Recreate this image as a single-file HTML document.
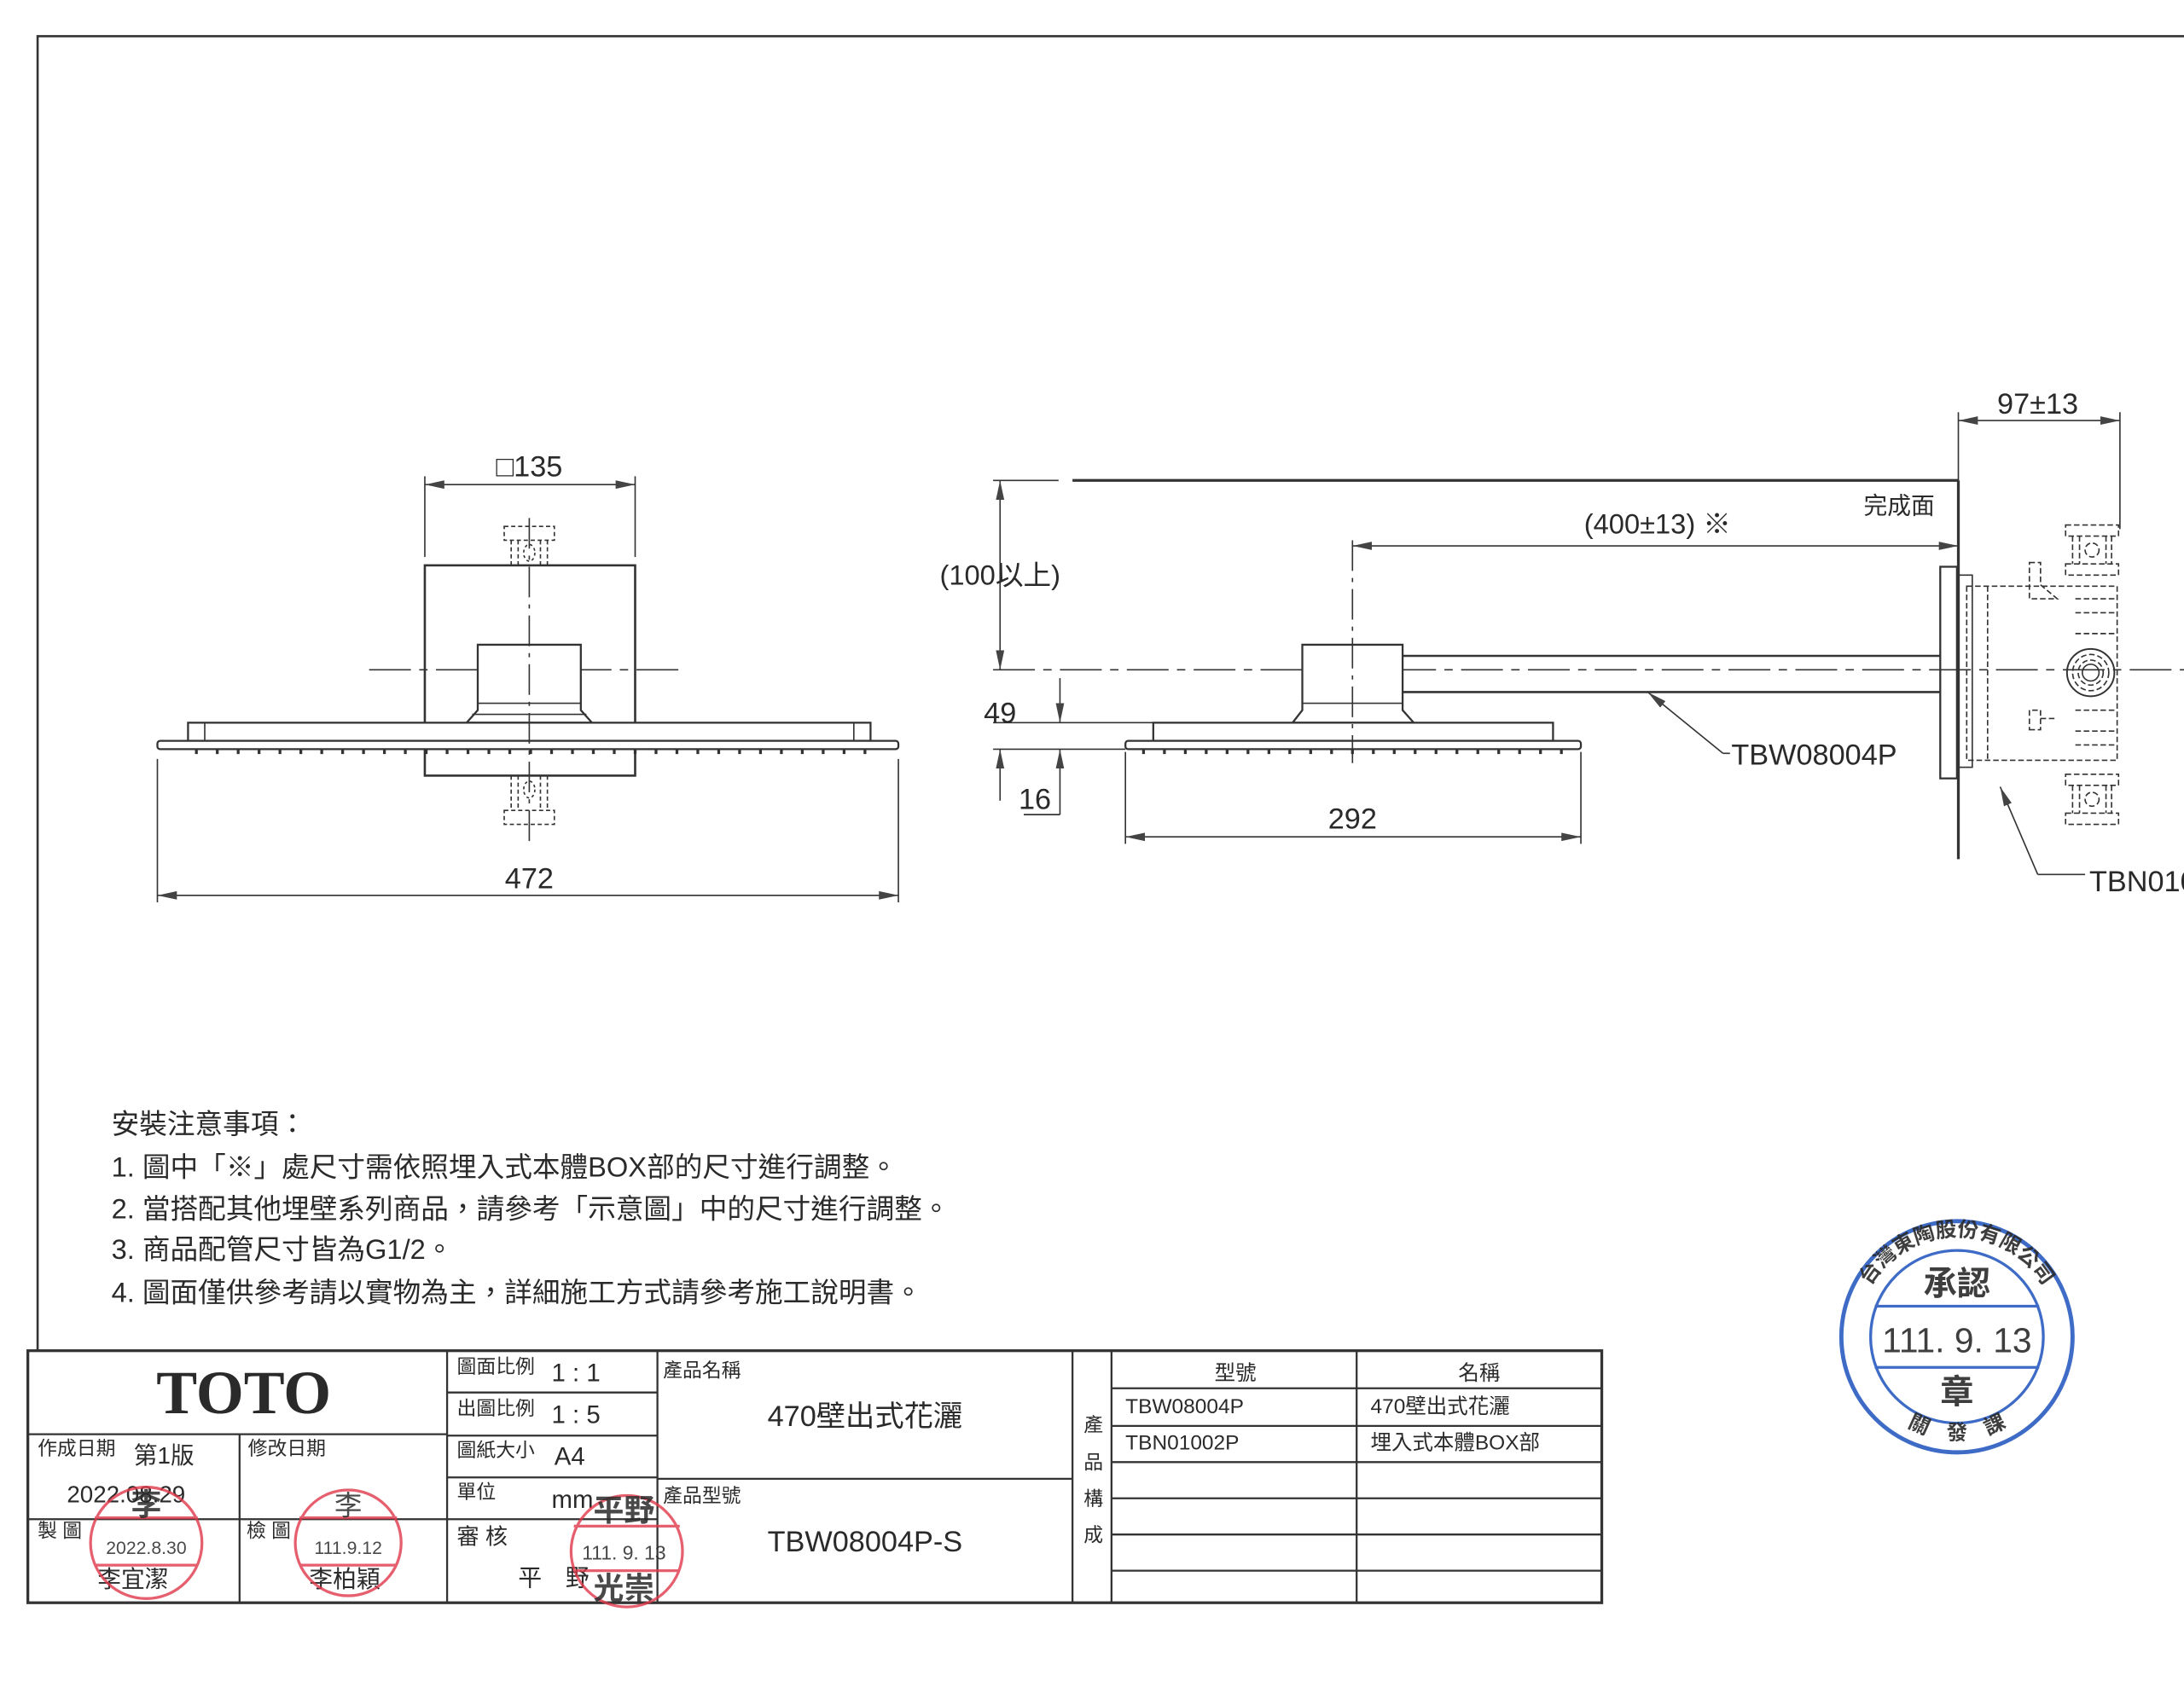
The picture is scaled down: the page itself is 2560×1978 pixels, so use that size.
<!DOCTYPE html>
<html><head><meta charset="utf-8">
<style>
html,body{margin:0;padding:0;background:#fff;}
svg{display:block;}
text{font-family:"Liberation Sans Narrow","Liberation Sans","Noto Sans CJK TC",sans-serif;fill:#2a2a2a;}
.cjk{font-family:"Liberation Sans","Noto Sans CJK TC",sans-serif;}
</style></head><body>
<svg width="2560" height="1978" viewBox="0 0 1568 1211.5" xmlns="http://www.w3.org/2000/svg">
<defs>
<marker id="a" markerWidth="14" markerHeight="8" refX="14" refY="4" orient="auto-start-reverse" markerUnits="userSpaceOnUse">
<path d="M0,1 L14,4 L0,7 Z" fill="#444"/></marker>
<path id="arcTop" d="M1333,960 A72,72 0 0 1 1477,960"/>
<path id="arcBot" d="M1340,990 A70,70 0 0 0 1470,990"/>
</defs>
<rect width="1568" height="1211.5" fill="#fff"/>
<path d="M27,970 V26 H1568" fill="none" stroke="#333" stroke-width="1.6"/>

<g stroke="#333" fill="none" stroke-width="1">
<!-- LEFT VIEW -->
<line x1="305" y1="342" x2="305" y2="400"/>
<line x1="456" y1="342" x2="456" y2="400"/>
<line x1="305" y1="348" x2="456" y2="348" marker-start="url(#a)" marker-end="url(#a)"/>
<rect x="305" y="406" width="151" height="151" stroke-width="1.6"/>
<line x1="265" y1="481" x2="493" y2="481" stroke-dasharray="30,6,6,6"/>
<path d="M343,510 V463 H417 V510 L425,519 H335 L343,510 Z" fill="#fff" stroke-width="1.4"/>
<line x1="343" y1="505" x2="417" y2="505"/>
<line x1="339" y1="513" x2="421" y2="513"/>
<rect x="135" y="519" width="490" height="13" stroke-width="1.4" fill="#fff"/>
<line x1="147" y1="519" x2="147" y2="532"/><line x1="613" y1="519" x2="613" y2="532"/>
<rect x="113" y="532" width="532" height="6" rx="2" stroke-width="1.4" fill="#fff"/>
<line x1="380" y1="372" x2="380" y2="605" stroke-dasharray="22,5,3,5"/>
<path d="M140,540 h490" stroke-dasharray="2,13" stroke-width="3"/>
<rect x="362" y="378" width="36" height="10" stroke-dasharray="3,2"/>
<path d="M367,388 v18 M372,388 v18 M388,388 v18 M393,388 v18" stroke-dasharray="3,2"/>
<ellipse cx="380" cy="397" rx="4" ry="6" stroke-dasharray="2,2"/>
<rect x="362" y="582" width="36" height="10" stroke-dasharray="3,2"/>
<path d="M367,557 v25 M372,557 v25 M388,557 v25 M393,557 v25" stroke-dasharray="3,2"/>
<ellipse cx="380" cy="567" rx="4" ry="6" stroke-dasharray="2,2"/>
<line x1="113" y1="545" x2="113" y2="648"/>
<line x1="645" y1="545" x2="645" y2="648"/>
<line x1="113" y1="643" x2="645" y2="643" marker-start="url(#a)" marker-end="url(#a)"/>

<!-- RIGHT VIEW -->
<line x1="770" y1="345" x2="1406" y2="345" stroke-width="2"/>
<line x1="1406" y1="345" x2="1406" y2="617" stroke-width="2"/>
<line x1="1406" y1="296" x2="1406" y2="345"/>
<line x1="1522" y1="296" x2="1522" y2="380"/>
<line x1="1406" y1="302" x2="1522" y2="302" marker-start="url(#a)" marker-end="url(#a)"/>
<line x1="971" y1="392" x2="1406" y2="392" marker-start="url(#a)" marker-end="url(#a)"/>
<line x1="713" y1="345" x2="760" y2="345"/>
<line x1="718" y1="345" x2="718" y2="481" marker-start="url(#a)" marker-end="url(#a)"/>
<line x1="713" y1="481" x2="1568" y2="481" stroke-dasharray="30,6,6,6"/>
<line x1="713" y1="519" x2="830" y2="519"/>
<line x1="713" y1="538" x2="808" y2="538"/>
<line x1="761" y1="487" x2="761" y2="519" marker-end="url(#a)"/>
<line x1="761" y1="585" x2="761" y2="538" marker-end="url(#a)"/>
<line x1="735" y1="585" x2="761" y2="585"/>
<line x1="718" y1="575" x2="718" y2="538" marker-end="url(#a)"/>
<path d="M935,510 V463 H1007 V510 L1015,519 H928 L935,510 Z" fill="#fff" stroke-width="1.4"/>
<line x1="935" y1="505" x2="1007" y2="505"/>
<line x1="1007" y1="471" x2="1393" y2="471" stroke-width="1.6"/>
<line x1="1007" y1="497" x2="1393" y2="497" stroke-width="1.6"/>
<rect x="828" y="519" width="287" height="13" stroke-width="1.4" fill="#fff"/>
<rect x="808" y="532" width="327" height="6" rx="2" stroke-width="1.4" fill="#fff"/>
<path d="M820,540 h305" stroke-dasharray="2,13" stroke-width="3"/>
<line x1="971" y1="388" x2="971" y2="548" stroke-dasharray="22,5,3,5"/>
<rect x="1393" y="407" width="12" height="152" stroke-width="1.4"/>
<rect x="1406" y="413" width="10" height="138"/>
<line x1="808" y1="540" x2="808" y2="606"/>
<line x1="1135" y1="540" x2="1135" y2="606"/>
<line x1="808" y1="601" x2="1135" y2="601" marker-start="url(#a)" marker-end="url(#a)"/>
<path d="M1237,541 L1183,497" marker-end="url(#a)"/>
<line x1="1237" y1="541" x2="1242" y2="541"/>
<path d="M1463,628 L1436,565" marker-end="url(#a)"/>
<line x1="1463" y1="628" x2="1497" y2="628"/>
<g stroke-dasharray="4,2">
<rect x="1412" y="421" width="108" height="125"/>
<line x1="1427" y1="421" x2="1427" y2="546"/>
<rect x="1483" y="377" width="38" height="8"/><rect x="1483" y="405" width="38" height="8"/>
<path d="M1488,385 v20 M1493,385 v20 M1512,385 v20 M1516,385 v20"/>
<circle cx="1502" cy="395" r="5"/>
<rect x="1483" y="584" width="38" height="8"/><rect x="1483" y="556" width="38" height="8"/>
<path d="M1488,564 v20 M1493,564 v20 M1512,564 v20 M1516,564 v20"/>
<circle cx="1502" cy="574" r="5"/>
<path d="M1457,404 h8 v16 l12,10 h-20 z"/>
<path d="M1457,524 h8 v-14 h-8 z M1465,516 h12"/>
<path d="M1490,430 h30 M1490,440 h30 M1490,455 h30 M1490,510 h30 M1490,525 h30 M1490,535 h30"/>
<circle cx="1501" cy="483" r="13"/>
<circle cx="1501" cy="483" r="9"/>
</g>
<circle cx="1501" cy="483" r="17" stroke-width="1.2"/>
<circle cx="1501" cy="483" r="6"/>
</g>

<g font-size="21" text-anchor="middle">
<text x="380" y="342">□135</text>
<text x="380" y="638">472</text>
<text x="1463" y="297">97±13</text>
<text x="1190" y="383" class="cjk" font-size="20">(400±13) ※</text>
<text x="718" y="420" class="cjk" font-size="20">(100以上)</text>
<text x="718" y="519">49</text>
<text x="743" y="581">16</text>
<text x="971" y="595">292</text>
</g>
<text x="1338" y="369" class="cjk" font-size="17">完成面</text>
<text x="1243" y="549" font-size="21">TBW08004P</text>
<text x="1500" y="640" font-size="21">TBN01002P</text>

<g class="cjk" font-size="20" fill="#222">
<text x="80" y="814" class="cjk">安裝注意事項：</text>
<text x="80" y="845" class="cjk">1. 圖中「※」處尺寸需依照埋入式本體BOX部的尺寸進行調整。</text>
<text x="80" y="875" class="cjk">2. 當搭配其他埋壁系列商品，請參考「示意圖」中的尺寸進行調整。</text>
<text x="80" y="904" class="cjk">3. 商品配管尺寸皆為G1/2。</text>
<text x="80" y="935" class="cjk">4. 圖面僅供參考請以實物為主，詳細施工方式請參考施工說明書。</text>
</g>

<g stroke="#333" fill="none" stroke-width="1.4">
<rect x="20" y="970" width="1130" height="181" stroke-width="2"/>
<line x1="172" y1="1030" x2="172" y2="1151"/>
<line x1="321" y1="970" x2="321" y2="1151"/>
<line x1="472" y1="970" x2="472" y2="1151"/>
<line x1="770" y1="970" x2="770" y2="1151"/>
<line x1="798" y1="970" x2="798" y2="1151"/>
<line x1="974" y1="970" x2="974" y2="1151"/>
<line x1="20" y1="1030" x2="321" y2="1030"/>
<line x1="20" y1="1091" x2="472" y2="1091"/>
<line x1="321" y1="1000" x2="472" y2="1000"/>
<line x1="321" y1="1031" x2="472" y2="1031"/>
<line x1="321" y1="1061" x2="472" y2="1061"/>
<line x1="472" y1="1062" x2="770" y2="1062"/>
<line x1="798" y1="997" x2="1150" y2="997"/>
<line x1="798" y1="1024" x2="1150" y2="1024"/>
<line x1="798" y1="1050" x2="1150" y2="1050"/>
<line x1="798" y1="1076" x2="1150" y2="1076"/>
<line x1="798" y1="1102" x2="1150" y2="1102"/>
<line x1="798" y1="1128" x2="1150" y2="1128"/>
</g>
<text x="175" y="1015" text-anchor="middle" font-weight="bold" font-size="44" style="font-family:'Liberation Serif',serif" fill="#333">TOTO</text>
<g class="cjk" font-size="14">
<text x="27" y="1045">作成日期</text>
<text x="96" y="1051" font-size="17">第1版</text>
<text x="48" y="1079" font-size="17">2022.08.29</text>
<text x="178" y="1045">修改日期</text>
<text x="27" y="1104">製 圖</text>
<text x="177" y="1104">檢 圖</text>
<text x="328" y="986">圖面比例</text>
<text x="396" y="992" font-size="18">1 : 1</text>
<text x="328" y="1016">出圖比例</text>
<text x="396" y="1022" font-size="18">1 : 5</text>
<text x="328" y="1046">圖紙大小</text>
<text x="398" y="1052" font-size="18">A4</text>
<text x="328" y="1076">單位</text>
<text x="396" y="1083" font-size="18">mm</text>
<text x="328" y="1109" font-size="16">審 核</text>
<text x="372" y="1139" font-size="17">平　野</text>
<text x="476" y="989">產品名稱</text>
<text x="621" y="1024" font-size="21" text-anchor="middle">470壁出式花灑</text>
<text x="476" y="1079">產品型號</text>
<text x="621" y="1114" font-size="21" text-anchor="middle">TBW08004P-S</text>
<text x="778" y="1028">產</text><text x="778" y="1055">品</text><text x="778" y="1081">構</text><text x="778" y="1107">成</text>
<text x="887" y="991" text-anchor="middle" font-size="15">型號</text>
<text x="1062" y="991" text-anchor="middle" font-size="15">名稱</text>
<text x="808" y="1015" font-size="15">TBW08004P</text>
<text x="984" y="1015" font-size="15">470壁出式花灑</text>
<text x="808" y="1041" font-size="15">TBN01002P</text>
<text x="984" y="1041" font-size="15">埋入式本體BOX部</text>
<text x="70" y="1140" font-size="17">李宜潔</text>
<text x="222" y="1140" font-size="17">李柏穎</text>
</g>

<g fill="none" stroke="#e0384a" stroke-width="2" opacity="0.8">
<circle cx="105" cy="1108" r="40"/>
<line x1="68" y1="1090" x2="142" y2="1090"/><line x1="68" y1="1124" x2="142" y2="1124"/>
<circle cx="250" cy="1108" r="38"/>
<line x1="215" y1="1090" x2="285" y2="1090"/><line x1="215" y1="1124" x2="285" y2="1124"/>
<circle cx="450" cy="1114" r="40"/>
<line x1="412" y1="1096" x2="488" y2="1096"/><line x1="412" y1="1128" x2="488" y2="1128"/>
</g>
<g fill="#e0384a" opacity="0.85" class="cjk">
<text x="105" y="1088" font-size="22" text-anchor="middle" font-weight="bold">李</text>
<text x="105" y="1116" font-size="13" text-anchor="middle">2022.8.30</text>
<text x="250" y="1088" font-size="20" text-anchor="middle">李</text>
<text x="250" y="1116" font-size="13" text-anchor="middle">111.9.12</text>
<text x="448" y="1092" font-size="22" text-anchor="middle" font-weight="bold">平野</text>
<text x="448" y="1120" font-size="14" text-anchor="middle">111. 9. 13</text>
<text x="448" y="1148" font-size="22" text-anchor="middle" font-weight="bold">光崇</text>
</g>

<g fill="none" stroke="#2a5cc0" opacity="0.9">
<circle cx="1405" cy="960" r="83" stroke-width="3"/>
<circle cx="1405" cy="960" r="62" stroke-width="2"/>
<line x1="1346" y1="938" x2="1464" y2="938" stroke-width="2"/>
<line x1="1346" y1="982" x2="1464" y2="982" stroke-width="2"/>
</g>
<g fill="#2a5cc0" class="cjk" opacity="0.9">
<text x="1405" y="930" font-size="24" font-weight="bold" text-anchor="middle">承認</text>
<text x="1405" y="971" font-size="25" text-anchor="middle">111. 9. 13</text>
<text x="1405" y="1008" font-size="24" font-weight="bold" text-anchor="middle">章</text>
<text font-size="15" font-weight="bold"><textPath href="#arcTop" startOffset="50%" text-anchor="middle">台灣東陶股份有限公司</textPath></text>
<text font-size="15" font-weight="bold"><textPath href="#arcBot" startOffset="50%" text-anchor="middle">關　發　課</textPath></text>
</g>
</svg>
</body></html>
